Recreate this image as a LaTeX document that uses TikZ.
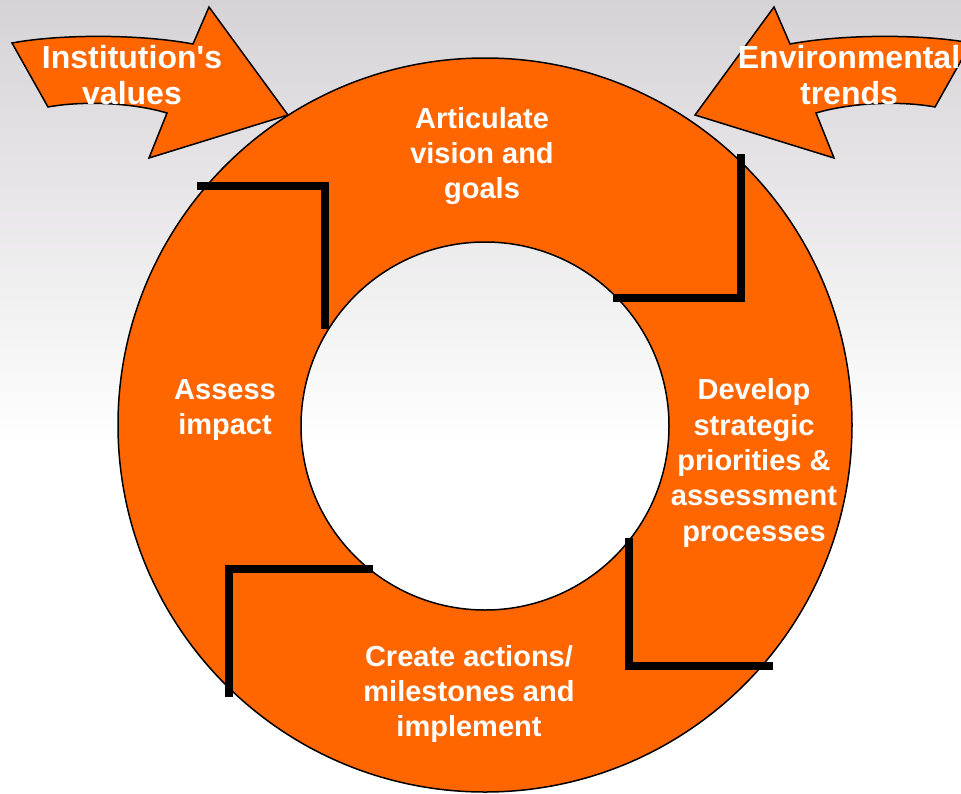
\documentclass[tikz,border=0pt]{standalone}
\usepackage{fontspec}
\setmainfont{Liberation Sans}
\usepackage{xcolor}
\usepackage{tikz}
\usetikzlibrary{positioning}
\definecolor{ringorange}{RGB}{255,102,0}
\definecolor{bggray}{RGB}{214,211,214}

\begin{document}
\begin{tikzpicture}[
            x=1pt, y=-1pt,
            ring/.style={fill=ringorange, draw=black, line width=1.5pt, even odd rule},
            bigarrow/.style={fill=ringorange, draw=black, line width=1.5pt, line join=miter},
            bar/.style={draw=black, line width=8pt},
            stage/.style={text=white, align=center, inner sep=0pt, font=\bfseries\fontsize{29}{35.3}\selectfont},
            input/.style={text=white, align=center, inner sep=0pt, font=\bfseries\fontsize{32}{36}\selectfont}
        ]

        \useasboundingbox (0,0) rectangle (961,793);
        \shade[top color=bggray, bottom color=white] (0,0) rectangle (961,445);
        \fill[white] (0,445) rectangle (961,793);

        \path[ring] (485,425) circle (367) (485,426) circle (184);

        \draw[bigarrow] (12,43) .. controls (60,34) and (140,34) .. (193,44) -- (209,7) -- (288,115)
            -- (149,158) -- (167,113) .. controls (130,102) and (80,101) .. (48,107) -- cycle;
        \draw[bigarrow] (971,43) .. controls (923,34) and (843,34) .. (790,44) -- (774,7) -- (695,115)
            -- (834,158) -- (816,113) .. controls (853,102) and (903,101) .. (935,107) -- cycle;

        \draw[bar] (197,186) -- (325,186) -- (325,329);
        \draw[bar] (741,154) -- (741,298) -- (613,298);
        \draw[bar] (629,538) -- (629,666) -- (773,666);
        \draw[bar] (373,569) -- (229,569) -- (229,697);

        \node[input] (values) at (132,75) {Institution\textquotesingle s\\values};
        \node[input] (trends) at (849,75) {Environmental\\trends};

        \node[stage] (vision) at (482,156) {Articulate\\vision and\\goals};
        \node[stage] (develop) at (754,463) {Develop\\strategic\\priorities \&\\assessment\\processes};
        \node[stage] (create) at (469,694) {Create actions/\\milestones and\\implement};
        \node[stage] (assess) at (225,410) {Assess\\impact};

    \end{tikzpicture}
\end{document}
